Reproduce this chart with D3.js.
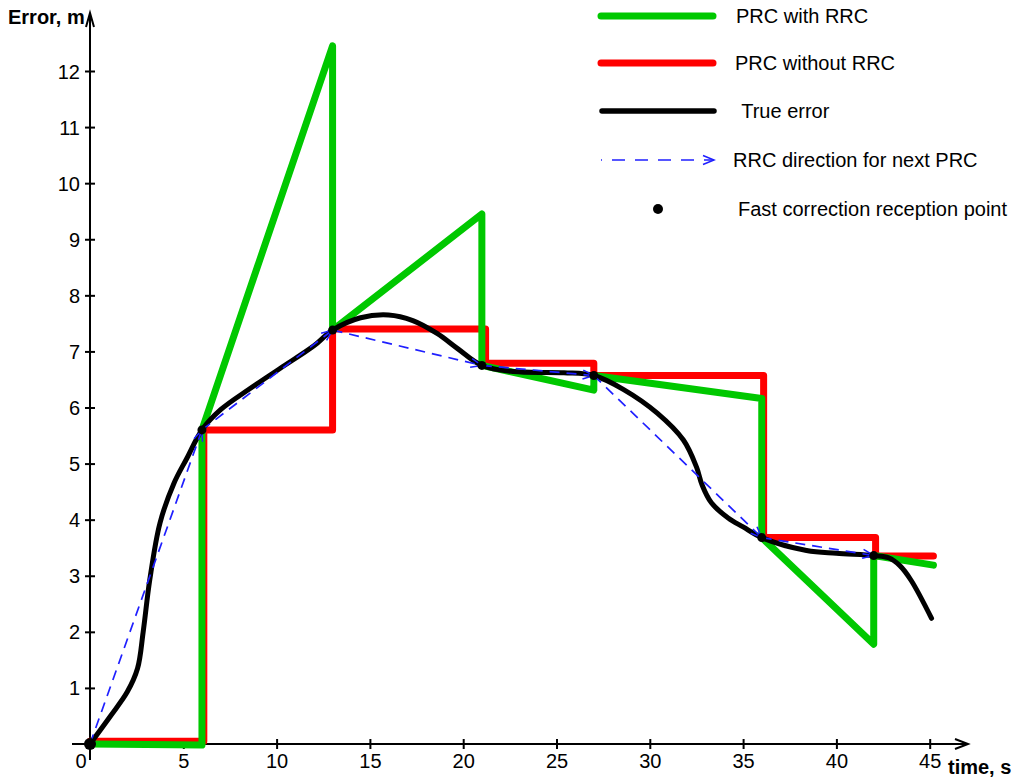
<!DOCTYPE html>
<html>
<head>
  <title>PRC error over time</title>
  <script src="https://d3js.org/d3.v7.min.js"></script>
  <style>
    body { margin: 0; background: #fff; }
    svg { display: block; font-family: "Liberation Sans", Arial, sans-serif; }
    .tick text { font-size: 20px; fill: #000; font-family: "Liberation Sans", Arial, sans-serif; }
    .tick line { stroke: #000; stroke-width: 2px; }
    .title { font-size: 20px; font-weight: bold; }
    .legend text { font-size: 20px; }
  </style>
</head>
<body>
  <svg width="1016" height="781"></svg>

  <script>
    // ticks
    const xTicks = [5, 10, 15, 20, 25, 30, 35, 40, 45];
    const yTicks = [1, 2, 3, 4, 5, 6, 7, 8, 9, 10, 11, 12];

    // true error curve
    const trueT = [0, 1.1, 2.0, 2.55, 2.85, 3.2, 3.75, 4.5, 5.2, 6, 7, 8.5, 10.2, 12, 13, 14.5, 16, 17.3, 18.6, 19.7, 21, 22.7, 25.4, 27, 28.6, 30.4, 31.8, 32.5, 32.8, 33.3, 34.2, 35, 36, 38.4, 40, 42, 42.8, 43.4, 44, 45.1];
    const trueErr = [0, 0.5, 0.93, 1.35, 2.0, 2.92, 3.94, 4.65, 5.1, 5.6, 5.96, 6.32, 6.7, 7.1, 7.38, 7.6, 7.65, 7.55, 7.32, 7.05, 6.75, 6.64, 6.62, 6.57, 6.32, 5.9, 5.42, 4.94, 4.62, 4.3, 4.03, 3.87, 3.68, 3.45, 3.4, 3.36, 3.32, 3.18, 2.92, 2.24];

    // PRC with RRC (sawtooth)
    const greenT = [0, 6, 6, 13, 13, 21, 21, 27, 27, 36, 36, 42, 42, 45.2];
    const greenErr = [0, -0.02, 5.6, 12.45, 7.38, 9.45, 6.75, 6.31, 6.57, 6.16, 3.68, 1.78, 3.36, 3.19];

    // PRC without RRC (steps)
    const redT = [0, 6.1, 13, 21.2, 27, 36.1, 42.1, 45.2];
    const redErr = [0.05, 5.6, 7.4, 6.79, 6.57, 3.68, 3.35, 3.35];

    // fast correction reception points
    const rxT = [0, 6, 13, 21, 27, 36, 42];
    const rxErr = [0, 5.6, 7.38, 6.75, 6.57, 3.68, 3.36];

    const legendLabels = ['PRC with RRC', 'PRC without RRC', ' True error', 'RRC direction for next PRC', 'Fast correction reception point'];

    const svg = d3.select('svg');
    const x = d3.scaleLinear().domain([0, 45]).range([90, 929.7]);
    const y = d3.scaleLinear().domain([0, 12]).range([744, 71]);

    const blue = '#1f1fff';
    const green = '#00c800';
    const red = '#ff0000';

    svg.append('defs').append('marker')
      .attr('id', 'arr')
      .attr('markerUnits', 'userSpaceOnUse')
      .attr('viewBox', '-12 -6 14 12')
      .attr('markerWidth', 14).attr('markerHeight', 12)
      .attr('refX', 0).attr('refY', 0)
      .attr('orient', 'auto')
      .append('path')
      .attr('d', 'M-11,-4.5L0,0L-11,4.5')
      .attr('fill', 'none')
      .attr('stroke', blue)
      .attr('stroke-width', 1.5);

    // axes
    const xAxis = svg.append('g')
      .attr('transform', `translate(0,${y(0)})`)
      .call(d3.axisBottom(x).tickValues(xTicks).tickSize(5).tickPadding(0));
    xAxis.select('.domain').remove();
    xAxis.selectAll('.tick line').attr('y1', -5).attr('y2', 5);
    xAxis.selectAll('.tick text').attr('y', 24).attr('dy', 0);
    svg.append('text').attr('x', 81).attr('y', 768).attr('text-anchor', 'middle')
      .style('font-size', '20px').text('0');

    const yAxis = svg.append('g')
      .attr('transform', `translate(${x(0)},0)`)
      .call(d3.axisLeft(y).tickValues(yTicks).tickSize(5));
    yAxis.select('.domain').remove();
    yAxis.selectAll('.tick line').attr('x1', -5).attr('x2', 5);
    yAxis.selectAll('.tick text').attr('x', -10).attr('dy', '0.35em');

    svg.append('line').attr('x1', 72).attr('x2', 967).attr('y1', y(0)).attr('y2', y(0))
      .attr('stroke', '#000').attr('stroke-width', 2);
    svg.append('path').attr('d', `M955,739L968,${y(0)}L955,749`)
      .attr('fill', 'none').attr('stroke', '#000').attr('stroke-width', 2);
    svg.append('line').attr('x1', x(0)).attr('x2', x(0)).attr('y1', 14).attr('y2', 760)
      .attr('stroke', '#000').attr('stroke-width', 2);
    svg.append('path').attr('d', `M86,27L${x(0)},13L94,27`)
      .attr('fill', 'none').attr('stroke', '#000').attr('stroke-width', 2);

    svg.append('text').attr('class', 'title').attr('x', 8).attr('y', 24).text('Error, m');
    svg.append('text').attr('class', 'title').attr('x', 948).attr('y', 774).text('time, s');

    // series
    const line = d3.line().x(d => x(d[0])).y(d => y(d[1]));

    svg.append('path')
      .datum(redT.map((t, i) => [t, redErr[i]]))
      .attr('d', line.curve(d3.curveStepAfter))
      .attr('fill', 'none').attr('stroke', red).attr('stroke-width', 7)
      .attr('stroke-linejoin', 'round').attr('stroke-linecap', 'round');

    svg.append('path')
      .datum(greenT.map((t, i) => [t, greenErr[i]]))
      .attr('d', line.curve(d3.curveLinear))
      .attr('fill', 'none').attr('stroke', green).attr('stroke-width', 7)
      .attr('stroke-linejoin', 'round').attr('stroke-linecap', 'round');

    svg.append('path')
      .datum(trueT.map((t, i) => [t, trueErr[i]]))
      .attr('d', line.curve(d3.curveCatmullRom.alpha(0.5)))
      .attr('fill', 'none').attr('stroke', '#000').attr('stroke-width', 5)
      .attr('stroke-linejoin', 'round').attr('stroke-linecap', 'round');

    // RRC direction arrows between reception points
    svg.append('g').selectAll('line')
      .data(d3.pairs(rxT.map((t, i) => [t, rxErr[i]])))
      .enter().append('line')
      .attr('x1', d => x(d[0][0])).attr('y1', d => y(d[0][1]))
      .attr('x2', d => x(d[1][0])).attr('y2', d => y(d[1][1]))
      .attr('stroke', blue).attr('stroke-width', 1.7)
      .attr('stroke-dasharray', '10,7')
      .attr('marker-end', 'url(#arr)');

    svg.append('g').selectAll('circle')
      .data(rxT.map((t, i) => [t, rxErr[i]]))
      .enter().append('circle')
      .attr('cx', d => x(d[0])).attr('cy', d => y(d[1]))
      .attr('r', (d, i) => i === 0 ? 6 : 4.5)
      .attr('fill', '#000');

    // legend
    const lg = svg.append('g').attr('class', 'legend');
    const rows = [16, 63, 111, 160, 209];
    const textX = [736, 735, 736, 733, 738];
    lg.append('line').attr('x1', 601).attr('x2', 713).attr('y1', rows[0]).attr('y2', rows[0])
      .attr('stroke', green).attr('stroke-width', 7).attr('stroke-linecap', 'round');
    lg.append('line').attr('x1', 601).attr('x2', 713).attr('y1', rows[1]).attr('y2', rows[1])
      .attr('stroke', red).attr('stroke-width', 7).attr('stroke-linecap', 'round');
    lg.append('line').attr('x1', 602).attr('x2', 714).attr('y1', rows[2]).attr('y2', rows[2])
      .attr('stroke', '#000').attr('stroke-width', 5.5).attr('stroke-linecap', 'round');
    lg.append('line').attr('x1', 601).attr('x2', 714).attr('y1', rows[3]).attr('y2', rows[3])
      .attr('stroke', blue).attr('stroke-width', 1.7)
      .attr('stroke-dasharray', '13,10').attr('stroke-dashoffset', 12)
      .attr('marker-end', 'url(#arr)');
    lg.append('circle').attr('cx', 658).attr('cy', rows[4]).attr('r', 5).attr('fill', '#000');
    lg.selectAll('text').data(legendLabels).enter().append('text')
      .attr('x', (d, i) => textX[i]).attr('y', (d, i) => rows[i])
      .attr('dy', '0.35em')
      .attr('xml:space', 'preserve')
      .style('white-space', 'pre')
      .text(d => d);
  </script>
</body>
</html>
